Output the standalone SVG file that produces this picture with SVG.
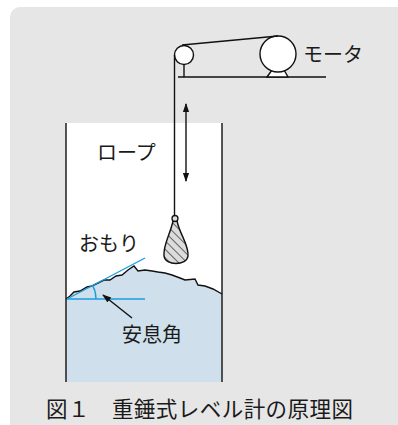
<svg xmlns="http://www.w3.org/2000/svg" width="398" height="425" viewBox="0 0 398 425">
  <style>
    .ln { stroke: #111; stroke-width: 1.4; fill: none; }
    .blue { stroke: #1a9ee0; stroke-width: 1.4; fill: none; }
    .lbl { font-family: "Noto Sans CJK JP", "Noto Sans", sans-serif; font-size: 20px; fill: #1a1a1a; }
    .cap { font-family: "Noto Sans CJK JP", "Noto Sans", sans-serif; font-size: 21.5px; fill: #1a1a1a; }
  </style>
  <defs>
    <pattern id="hatch" patternUnits="userSpaceOnUse" width="6" height="6" patternTransform="rotate(-45)">
      <rect width="6" height="6" fill="#dcdcdc"/>
      <line x1="0" y1="0" x2="0" y2="6" stroke="#222" stroke-width="1.3"/>
    </pattern>
    <marker id="ah" viewBox="0 0 10 10" refX="9" refY="5" markerWidth="9" markerHeight="9" orient="auto-start-reverse" markerUnits="userSpaceOnUse">
      <path d="M0,1.5 L10,5 L0,8.5 Z" fill="#111"/>
    </marker>
  </defs>

  <!-- panel -->
  <rect x="10" y="7" width="400" height="430" rx="10" fill="#e6e6e6"/>

  <!-- tank -->
  <g id="tank">
    <rect x="66" y="123" width="156" height="259" fill="#ffffff"/>
    <path d="M66,299 L70,296 L74,292 L80,291 L87,287 L92,286 L98,283 L104,280 L110,280 L116,276 L122,275 L128,270 L134,266 L138,271 L145,270 L152,271 L158,272 L165,273 L172,275 L180,278 L185,280 L195,279 L198,285 L205,286 L213,289 L222,294 L222,382 L66,382 Z" fill="#cfdfeb" stroke="none"/>
    <path class="ln" d="M66,299 L70,296 L74,292 L80,291 L87,287 L92,286 L98,283 L104,280 L110,280 L116,276 L122,275 L128,270 L134,266 L138,271 L145,270 L152,271 L158,272 L165,273 L172,275 L180,278 L185,280 L195,279 L198,285 L205,286 L213,289 L222,294"/>
    <line class="ln" x1="66" y1="123" x2="66" y2="382"/>
    <line class="ln" x1="222" y1="123" x2="222" y2="382"/>
  </g>

  <!-- angle of repose -->
  <g id="angle">
    <line class="blue" x1="67" y1="299" x2="145" y2="258"/>
    <line class="blue" x1="67" y1="299" x2="145" y2="299"/>
    <path class="blue" d="M92.7,285.5 A29,29 0 0 1 96,299"/>
  </g>

  <!-- pulley, motor and base -->
  <g id="drive">
    <line x1="178" y1="77" x2="326" y2="77" stroke="#444" stroke-width="2"/>
    <line class="ln" x1="184" y1="56" x2="184" y2="77"/>
    <circle cx="184" cy="55" r="9.5" fill="#fff" stroke="#111" stroke-width="1.4"/>
    <polygon points="267,77 272,70 284,70 288,77" fill="#fff" stroke="#111" stroke-width="1.4"/>
    <circle cx="278" cy="54" r="18" fill="#fff" stroke="#111" stroke-width="1.4"/>
  </g>

  <!-- weight -->
  <g id="weight">
    <path d="M173,221 C170,235 163,245 164,256 C165,266 187,266 188,256 C189,245 180,235 177,221 Z" fill="url(#hatch)" stroke="#111" stroke-width="1.4"/>
    <circle cx="175" cy="218.5" r="3" fill="#dcdcdc" stroke="#111" stroke-width="1.3"/>
  </g>

  <!-- connectors -->
  <g id="connectors">
    <line class="ln" x1="182" y1="45" x2="278" y2="36"/>
    <line class="ln" x1="174.5" y1="55" x2="174.5" y2="215.5"/>
    <line class="ln" x1="186" y1="104" x2="186" y2="181" marker-start="url(#ah)" marker-end="url(#ah)"/>
    <line class="ln" x1="132" y1="318" x2="103" y2="295" marker-end="url(#ah)"/>
  </g>

  <!-- labels -->
  <text class="lbl" x="303" y="62">モータ</text>
  <text class="lbl" x="97" y="160">ロープ</text>
  <text class="lbl" x="79" y="251">おもり</text>
  <text class="lbl" x="122" y="342">安息角</text>
  <text class="cap" x="46" y="417" textLength="307" lengthAdjust="spacing">図１　重錘式レベル計の原理図</text>
</svg>
